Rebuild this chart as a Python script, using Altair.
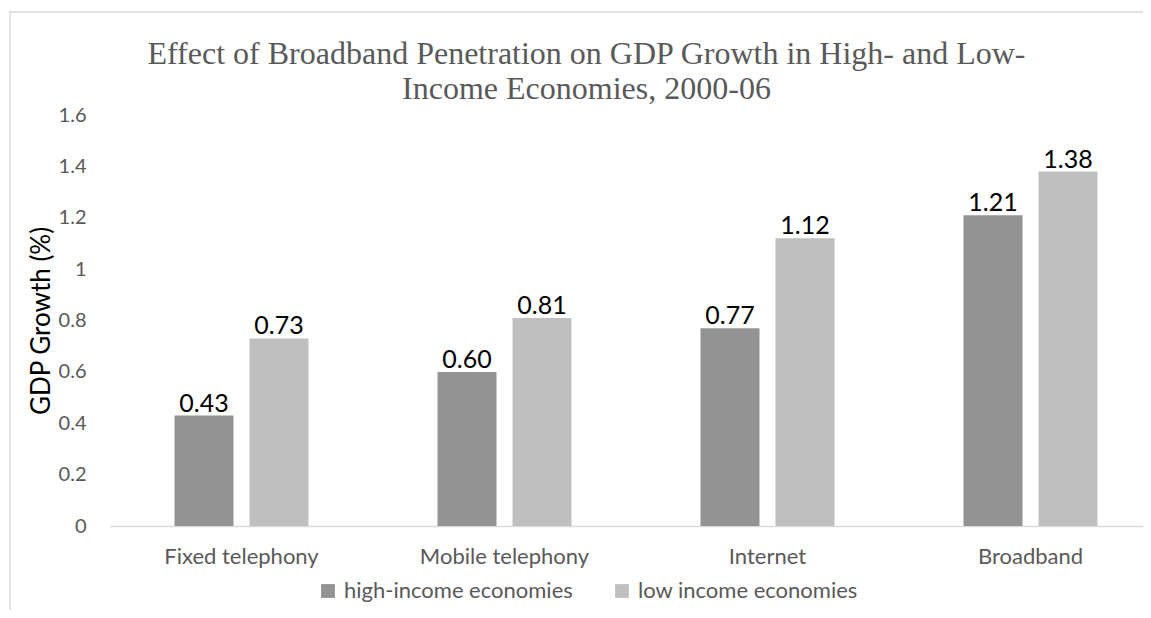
import altair as alt
import pandas as pd

categories = ["Fixed telephony", "Mobile telephony", "Internet", "Broadband"]
series = ["high-income economies", "low income economies"]
high_income = [0.43, 0.60, 0.77, 1.21]
low_income = [0.73, 0.81, 1.12, 1.38]
y_ticks = [0, 0.2, 0.4, 0.6, 0.8, 1.0, 1.2, 1.4, 1.6]
colors = ["#939393", "#bfbfbf"]
title_lines = ["Effect of Broadband Penetration on GDP Growth in High- and Low-",
               "Income Economies, 2000-06"]

rows = []
for c, h, l in zip(categories, high_income, low_income):
    rows.append({"category": c, "series": series[0], "value": h})
    rows.append({"category": c, "series": series[1], "value": l})
df = pd.DataFrame(rows)

x_enc = alt.X(
    "category:N", sort=categories,
    scale=alt.Scale(range=[0, 1052], paddingInner=0, paddingOuter=0),
    axis=alt.Axis(title=None, labelAngle=0, ticks=False, domainColor="#d9d9d9",
                  domainWidth=1.3, labelFont="Lato", labelFontSize=22,
                  labelColor="#595959", labelPadding=20),
)
xoff_enc = alt.XOffset("series:N", sort=series,
                       scale=alt.Scale(paddingInner=0.2133, paddingOuter=0.86))
y_enc = alt.Y(
    "value:Q",
    scale=alt.Scale(domain=[0, 1.6], nice=False, zero=True),
    axis=alt.Axis(values=y_ticks, format="~g", grid=False, ticks=False, domain=False,
                  labelFont="Lato", labelFontSize=20, labelColor="#595959",
                  labelPadding=24, title="GDP Growth (%)", titleFont="Lato",
                  titleFontSize=26, titleFontWeight="normal", titleColor="black",
                  titlePadding=4),
)
color_enc = alt.Color(
    "series:N", sort=series,
    scale=alt.Scale(domain=series, range=colors),
    legend=alt.Legend(title=None, orient="none", legendX=207, legendY=465,
                      direction="horizontal", symbolType="square", symbolSize=190,
                      symbolStrokeWidth=0, labelFont="Lato", labelFontSize=22,
                      labelColor="#595959", columnPadding=38, labelOffset=5,
                      labelLimit=400),
)

base = alt.Chart(df)
bars = base.mark_bar().encode(x=x_enc, xOffset=xoff_enc, y=y_enc, color=color_enc)
labels = base.mark_text(baseline="alphabetic", dy=-4, font="Lato", fontSize=25,
                        color="black").encode(
    x=x_enc, xOffset=xoff_enc, y=y_enc,
    text=alt.Text("value:Q", format=".2f"),
)

frame = alt.Chart(pd.DataFrame({"f": [0]})).mark_rect(
    filled=False, stroke="#d9d9d9", strokeWidth=1.5
).encode(x=alt.value(-100), x2=alt.value(1300), y=alt.value(-103), y2=alt.value(700))

chart = alt.layer(frame, bars, labels).properties(
    width=1033, height=411,
    title=alt.TitleParams(text=title_lines, font="Liberation Serif", fontSize=32,
                          fontWeight="normal", color="#595959", anchor="middle",
                          frame="group", offset=0, dx=-40, dy=95, lineHeight=35),
    autosize=alt.AutoSizeParams(type="none"),
    padding={"left": 102, "top": 107, "right": 0, "bottom": 84},
).configure_view(stroke=None)

chart.save("out.html", embed_options={"renderer": "svg", "actions": False})
